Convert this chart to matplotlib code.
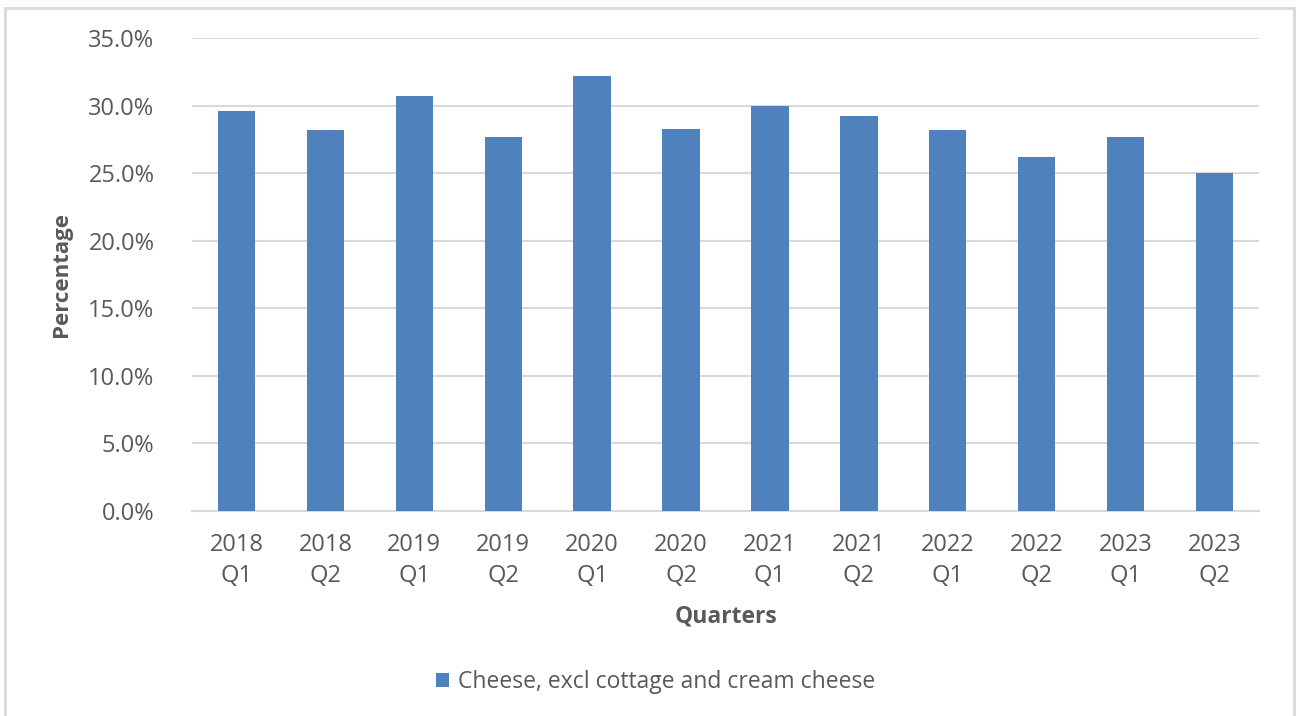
import matplotlib
matplotlib.use('Agg')
import numpy as np
from matplotlib import pyplot as plt
from matplotlib.patches import Rectangle
from matplotlib.ticker import PercentFormatter

quarters = ['2018\nQ1', '2018\nQ2', '2019\nQ1', '2019\nQ2', '2020\nQ1', '2020\nQ2',
            '2021\nQ1', '2021\nQ2', '2022\nQ1', '2022\nQ2', '2023\nQ1', '2023\nQ2']
share = [29.6, 28.2, 30.7, 27.7, 32.2, 28.3, 30.0, 29.2, 28.2, 26.2, 27.7, 25.0]
series_name = 'Cheese, excl cottage and cream cheese'

bar_color = '#4F81BD'
text_color = '#595959'
grid_color = '#D9D9D9'

plt.rcParams['font.family'] = ['Open Sans', 'DejaVu Sans']

fig = plt.figure(figsize=(12.99, 7.16), dpi=100)
# outer chart frame
fig.patches.append(Rectangle((5 / 1299, -0.05), 1289 / 1299, 1 - 8 / 716 + 0.05,
                             transform=fig.transFigure, fill=False,
                             edgecolor='#D9D9D9', linewidth=2))

ax = fig.add_axes([192 / 1299, 1 - 511 / 716, 1067 / 1299, 473 / 716])
x = np.arange(len(quarters))
ax.bar(x, share, width=0.42, color=bar_color, label=series_name, zorder=3)

ax.set_xlim(-0.5, len(quarters) - 0.5)
ax.set_ylim(0, 35)
ax.set_yticks(np.arange(0, 35.1, 5))
ax.yaxis.set_major_formatter(PercentFormatter(decimals=1))
ax.set_xticks(x)
ax.set_xticklabels(quarters, linespacing=1.35)

ax.grid(axis='y', color=grid_color, linewidth=1.5, zorder=0)
for side in ['top', 'right', 'left']:
    ax.spines[side].set_visible(False)
ax.spines['bottom'].set_color(grid_color)
ax.spines['bottom'].set_linewidth(1.5)
ax.tick_params(axis='both', length=0, labelsize=17, colors=text_color)
ax.tick_params(axis='y', pad=27)
ax.tick_params(axis='x', pad=16)

ax.set_ylabel('Percentage', fontsize=16, fontweight='bold', color=text_color, labelpad=12)
ax.set_xlabel('Quarters', fontsize=16.5, fontweight='bold', color=text_color, labelpad=12)

leg = fig.legend(loc='center', bbox_to_anchor=(0.505, 1 - 682 / 716), frameon=False,
                 fontsize=16.5, handlelength=0.55, handleheight=0.6, handletextpad=0.4)
for t in leg.get_texts():
    t.set_color(text_color)

fig.savefig('out.png', dpi=100, facecolor='white')
